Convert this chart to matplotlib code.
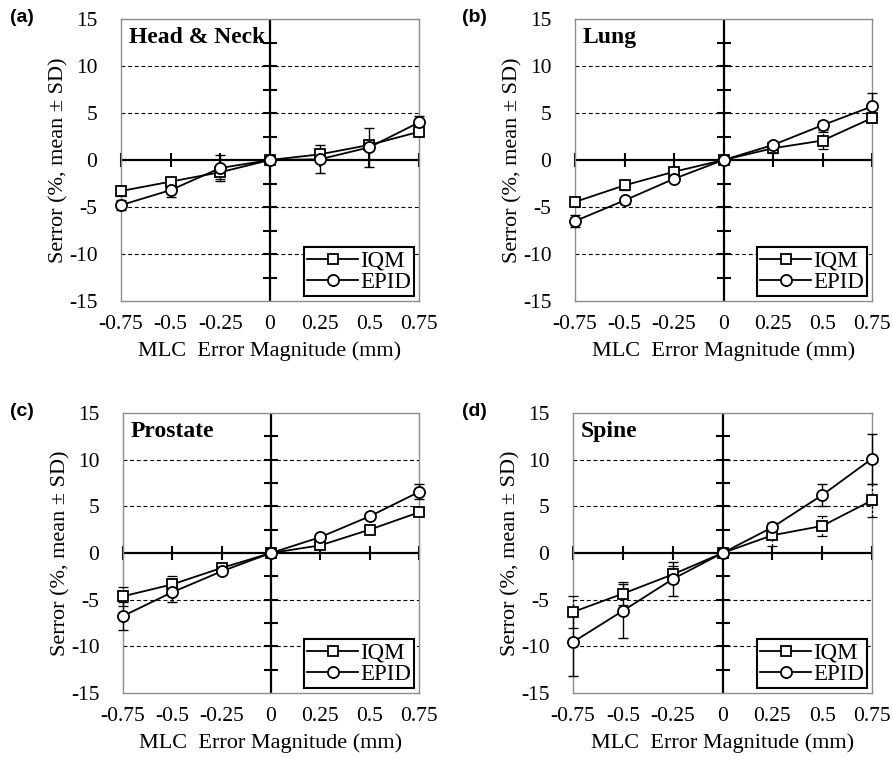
import matplotlib
matplotlib.use("Agg")
import matplotlib.pyplot as plt
import numpy as np

plt.rcParams['font.family'] = ['Liberation Serif', 'DejaVu Serif']

x_vals = [-0.75, -0.5, -0.25, 0, 0.25, 0.5, 0.75]
x_ticklabels = ["-0.75", "-0.5", "-0.25", "0", "0.25", "0.5", "0.75"]
y_ticks = [-15, -10, -5, 0, 5, 10, 15]
grid_levels = [-10, -5, 5, 10]
y_minor = [-12.5, -10, -7.5, -5, -2.5, 2.5, 5, 7.5, 10, 12.5]

titles = ["Head & Neck", "Lung", "Prostate", "Spine"]
panel_tags = ["(a)", "(b)", "(c)", "(d)"]

hn_iqm = [-3.3, -2.3, -1.3, 0, 0.6, 1.6, 3.0]
hn_iqm_sd = [0.5, 0.4, 0.7, 0, 0.3, 0.4, 0.3]
hn_epid = [-4.8, -3.2, -0.85, 0, 0.07, 1.35, 4.0]
hn_epid_sd = [0.5, 0.7, 1.4, 0, 1.5, 2.05, 0.7]

lung_iqm = [-4.46, -2.7, -1.25, 0, 1.25, 2.07, 4.46]
lung_iqm_sd = [0.4, 0.5, 0.4, 0, 0.5, 0.9, 0.4]
lung_epid = [-6.5, -4.3, -2.0, 0, 1.6, 3.7, 5.7]
lung_epid_sd = [0.6, 0.4, 0.3, 0, 0.3, 0.5, 1.4]

pro_iqm = [-4.64, -3.36, -1.6, 0, 0.82, 2.5, 4.36]
pro_iqm_sd = [1.0, 0.9, 0.4, 0, 0.3, 0.3, 0.3]
pro_epid = [-6.75, -4.2, -1.96, 0, 1.7, 3.93, 6.54]
pro_epid_sd = [1.5, 1.0, 0.3, 0, 0.3, 0.3, 0.8]

sp_iqm = [-6.32, -4.36, -2.3, 0, 1.9, 2.9, 5.64]
sp_iqm_sd = [1.7, 1.2, 0.9, 0, 1.2, 1.1, 1.8]
sp_epid = [-9.54, -6.2, -2.8, 0, 2.75, 6.2, 10.1]
sp_epid_sd = [3.6, 2.9, 1.8, 0, 0.5, 1.2, 2.7]

iqm_all = [hn_iqm, lung_iqm, pro_iqm, sp_iqm]
iqm_sd_all = [hn_iqm_sd, lung_iqm_sd, pro_iqm_sd, sp_iqm_sd]
epid_all = [hn_epid, lung_epid, pro_epid, sp_epid]
epid_sd_all = [hn_epid_sd, lung_epid_sd, pro_epid_sd, sp_epid_sd]

W, H = 893, 758
fig = plt.figure(figsize=(W / 100, H / 100), dpi=100)

# axes boxes in pixels: left, top, right, bottom
boxes = [(121, 19, 419, 301), (575, 19, 872, 301),
         (123, 413, 419, 693), (573, 413, 872, 693)]
tag_pos = [(10, 18), (462, 18), (10, 411), (462, 411)]

for i in range(4):
    l, t, r, b = boxes[i]
    ax = fig.add_axes([l / W, 1 - b / H, (r - l) / W, (b - t) / H])
    ax.set_xlim(-0.75, 0.75)
    ax.set_ylim(-15, 15)
    for s in ax.spines.values():
        s.set_color('#8c8c8c')
        s.set_linewidth(1.0)
    for g in grid_levels:
        ax.axhline(g, color='black', lw=0.8, ls=(0, (3.5, 2.5)), zorder=1)
    ax.axhline(0, color='black', lw=1.6, zorder=2)
    ax.axvline(0, color='black', lw=1.6, zorder=2)
    ax.plot(np.zeros(len(y_minor)), y_minor, ls='none', marker='_',
            ms=10, mew=1.5, color='black', zorder=2, clip_on=False)
    ax.plot(x_vals, np.zeros(len(x_vals)), ls='none', marker='|',
            ms=10, mew=1.5, color='black', zorder=2, clip_on=False)

    ax.errorbar(x_vals, iqm_all[i], yerr=iqm_sd_all[i], fmt='none',
                ecolor='black', elinewidth=0.9, capsize=3.5, capthick=0.9,
                zorder=3, clip_on=False)
    for coll in ax.collections[:1]:
        coll.set_linestyle((0, (2, 1.5)))
    ax.errorbar(x_vals, epid_all[i], yerr=epid_sd_all[i], fmt='none',
                ecolor='black', elinewidth=1.0, capsize=3.5,
                capthick=1.0, zorder=3, clip_on=False)

    ax.plot(x_vals, iqm_all[i], color='black', lw=1.3, marker='s', ms=7.5,
            mfc='white', mec='black', mew=1.3, label='IQM', zorder=5,
            clip_on=False)
    ax.plot(x_vals, epid_all[i], color='black', lw=1.3, marker='o', ms=8,
            mfc='white', mec='black', mew=1.3, label='EPID', zorder=5,
            clip_on=False)

    ax.set_yticks(y_ticks)
    ax.set_yticklabels([str(v) for v in y_ticks])
    ax.set_xticks(x_vals)
    ax.set_xticklabels(x_ticklabels)
    ax.tick_params(axis='both', length=0, labelsize=15.5)
    ax.tick_params(axis='y', pad=17)
    ax.tick_params(axis='x', pad=10)
    ax.set_xlabel('MLC  Error Magnitude (mm)', fontsize=16, labelpad=5)
    ax.set_ylabel('Serror (%, mean \u00b1 SD)', fontsize=16, labelpad=0)

    ax.text(0.027, 0.972, titles[i], transform=ax.transAxes, ha='left',
            va='top', fontsize=17, fontweight='bold', zorder=6)

    leg = ax.legend(loc='lower right', fontsize=16.5, frameon=True,
                    fancybox=False, edgecolor='black', framealpha=1,
                    borderaxespad=0.2, handlelength=2.2, handletextpad=0.1,
                    borderpad=0.15, labelspacing=0.0)
    leg.get_frame().set_linewidth(1.5)
    leg.set_zorder(7)

    fig.text(tag_pos[i][0] / W, 1 - tag_pos[i][1] / H, panel_tags[i],
             ha='left', va='center', fontsize=14, fontweight='bold',
             family=['Liberation Sans', 'DejaVu Sans'])

fig.savefig('out.png', dpi=100)
